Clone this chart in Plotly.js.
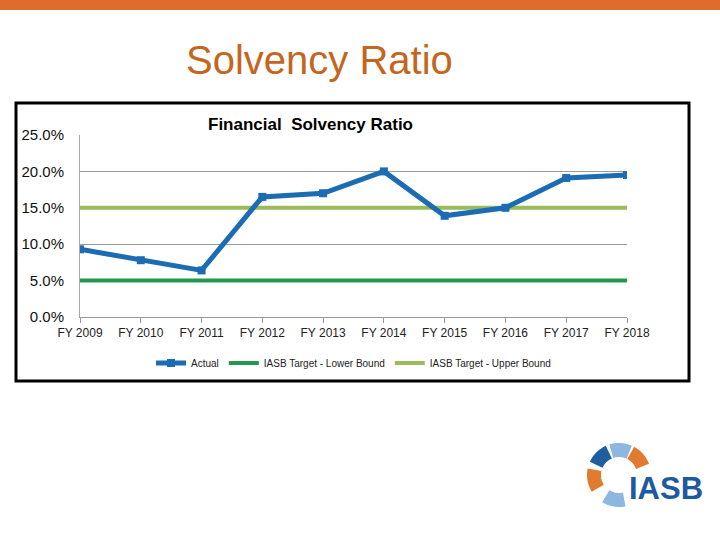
<!DOCTYPE html>
<html>
<head>
<meta charset="utf-8">
<script src="https://cdn.plot.ly/plotly-3.0.1.min.js"></script>
<style>html,body{margin:0;padding:0;background:#fff;}#chart{width:720px;height:540px;}</style>
</head>
<body>
<div id="chart"></div>
<script>
// ---- data ----
var categories = ["FY 2009","FY 2010","FY 2011","FY 2012","FY 2013","FY 2014","FY 2015","FY 2016","FY 2017","FY 2018"];
var actual = [0.093, 0.078, 0.064, 0.165, 0.170, 0.200, 0.139, 0.150, 0.191, 0.195];
var lowerBound = [0.05, 0.05, 0.05, 0.05, 0.05, 0.05, 0.05, 0.05, 0.05, 0.05];
var upperBound = [0.15, 0.15, 0.15, 0.15, 0.15, 0.15, 0.15, 0.15, 0.15, 0.15];
var yTicks = [0, 0.05, 0.10, 0.15, 0.20, 0.25];
var seriesNames = ["Actual", "IASB Target - Lower Bound", "IASB Target - Upper Bound"];

// ---- geometry helpers (pixel -> paper) ----
var L = 80, R = 93, T = 135, B = 223;
var PW = 720 - L - R, PH = 540 - T - B;
function px(x){ return (x - L) / PW; }
function py(y){ return (540 - B - y) / PH; }

var FONT = "Arial, 'Liberation Sans', sans-serif";

var traces = [
  {x: categories, y: lowerBound, name: seriesNames[1], type: "scatter", mode: "lines",
   line: {color: "#22994F", width: 4}, legendrank: 2},
  {x: categories, y: upperBound, name: seriesNames[2], type: "scatter", mode: "lines",
   line: {color: "#9BBB59", width: 4}, legendrank: 3},
  {x: categories, y: actual, name: seriesNames[0], type: "scatter", mode: "lines+markers",
   line: {color: "#1C6CB4", width: 5}, marker: {symbol: "square", size: 8, color: "#1C6CB4"}, legendrank: 1}
];

// ring of logo pieces
function arcPath(cx, cy, r, a0, a1){
  var pts = [], n = 12;
  for (var i = 0; i <= n; i++){
    var a = (a0 + (a1 - a0) * i / n) * Math.PI / 180;
    var x = cx + r * Math.cos(a), y = cy - r * Math.sin(a);
    pts.push((i === 0 ? "M" : "L") + px(x).toFixed(5) + "," + py(y).toFixed(5));
  }
  return pts.join(" ");
}
var ringC = [619, 475], ringR = 25;
var pieces = [
  [20, 62, "#E07B30"],
  [66, 108, "#8DB6E0"],
  [114, 156, "#1F5FA0"],
  [168, 212, "#E07B30"],
  [238, 282, "#8DB6E0"]
];

var shapes = [
  // orange top bar
  {type: "rect", xref: "paper", yref: "paper", x0: px(-5), x1: px(725), y0: py(0), y1: py(10),
   fillcolor: "#DE6C2A", line: {width: 0}, layer: "below"},
  // chart border
  {type: "rect", xref: "paper", yref: "paper", x0: px(16), x1: px(689), y0: py(103), y1: py(381),
   fillcolor: "rgba(0,0,0,0)", line: {color: "#000", width: 3}}
];
pieces.forEach(function(p){
  shapes.push({type: "path", xref: "paper", yref: "paper", path: arcPath(ringC[0], ringC[1], ringR, p[0], p[1]),
    line: {color: p[2], width: 14}});
});

var layout = {
  width: 720, height: 540,
  margin: {l: L, r: R, t: T, b: B, pad: 0},
  paper_bgcolor: "#fff", plot_bgcolor: "#fff",
  showlegend: true,
  legend: {orientation: "h", x: 0.5, xanchor: "center", y: py(363), yanchor: "middle",
    font: {family: FONT, size: 10, color: "#222"}, bgcolor: "rgba(0,0,0,0)"},
  xaxis: {type: "category", range: [0, categories.length - 1], showgrid: false,
    showline: true, linecolor: "#999", linewidth: 1, ticks: "outside", ticklen: 5, tickcolor: "#999",
    tickfont: {family: FONT, size: 12, color: "#222"}, zeroline: false, fixedrange: true},
  yaxis: {range: [0, 0.25], tickvals: yTicks, tickformat: ".1%", showgrid: true, gridcolor: "#999", gridwidth: 1,
    showline: true, linecolor: "#aaa", linewidth: 1, ticks: "", zeroline: false,
    ticklabelstandoff: 12,
    tickfont: {family: FONT, size: 15, color: "#111"}, fixedrange: true},
  annotations: [
    {xref: "paper", yref: "paper", x: px(184), y: py(60), xanchor: "left", yanchor: "middle",
     text: "Solvency Ratio", showarrow: false, font: {family: FONT, size: 40, color: "#C4661E"}},
    {xref: "paper", yref: "paper", x: px(310), y: py(124), xanchor: "center", yanchor: "middle",
     text: "<b>Financial  Solvency Ratio</b>", showarrow: false, font: {family: FONT, size: 17, color: "#000"}},
    {xref: "paper", yref: "paper", x: px(627), y: py(488), xanchor: "left", yanchor: "middle",
     text: "<b>IASB</b>", showarrow: false, font: {family: FONT, size: 31, color: "#1F5A9E"}}
  ],
  shapes: shapes
};

Plotly.newPlot("chart", traces, layout, {displayModeBar: false, staticPlot: true});
</script>
</body>
</html>
